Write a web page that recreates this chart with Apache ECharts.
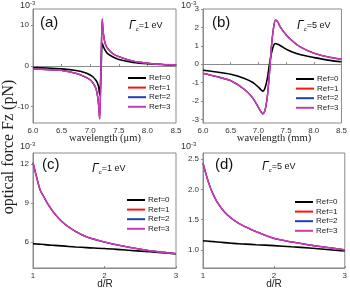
<!DOCTYPE html>
<html><head><meta charset="utf-8">
<script src="https://cdn.jsdelivr.net/npm/echarts@6/dist/echarts.min.js"></script>
<style>html,body{margin:0;padding:0;background:#fff}#c{width:350px;height:289px}</style>
</head><body><div id="c"></div>
<script>
// ---- data ----
var seriesNames = ['Ref=0','Ref=1','Ref=2','Ref=3'];
var wlA = [6.0,6.25,6.5,6.75,6.9,7.0,7.05,7.1,7.13,7.15,7.165,7.19,7.21,7.23,7.26,7.3,7.4,7.5,7.75,8.0,8.25,8.5];
var a_ref0 = [-0.4,-0.5,-0.7,-1.1,-1.6,-2.2,-2.7,-3.5,-4.3,-5.3,-7.1,-1.0,5.6,4.8,3.9,3.1,2.2,1.6,0.9,0.55,0.35,0.2];
var a_ref3 = [-0.7,-0.9,-1.1,-1.8,-2.6,-3.4,-4.2,-5.5,-7.5,-10.0,-13.0,0.0,11.5,8.0,5.6,4.4,3.0,2.3,1.2,0.7,0.4,0.25];
var a_ref1 = a_ref3.slice(), a_ref2 = a_ref3.slice();

var wlB = [6.0,6.25,6.5,6.75,6.9,7.0,7.05,7.08,7.12,7.16,7.2,7.24,7.28,7.31,7.35,7.4,7.5,7.6,7.75,8.0,8.25,8.5];
var b_ref0 = [-0.33,-0.43,-0.55,-0.78,-1.0,-1.25,-1.4,-1.47,-1.3,-0.8,0.0,0.65,1.05,1.12,1.08,1.0,0.82,0.68,0.52,0.36,0.22,0.13];
var b_ref3 = [-0.5,-0.68,-0.9,-1.38,-1.85,-2.35,-2.6,-2.7,-2.5,-1.8,-0.5,1.1,2.1,2.4,2.3,2.0,1.6,1.3,0.95,0.6,0.4,0.27];
var b_ref1 = b_ref3.slice(), b_ref2 = b_ref3.slice();

var dR = [1.0,1.05,1.1,1.15,1.2,1.3,1.4,1.5,1.6,1.75,2.0,2.25,2.5,2.75,3.0];
var c_ref0 = [5.87,5.85,5.83,5.81,5.78,5.74,5.70,5.66,5.62,5.57,5.5,5.4,5.3,5.2,5.08];
var c_ref3 = [12.1,11.0,10.0,9.5,9.0,8.2,7.6,7.15,6.8,6.4,6.0,5.7,5.45,5.25,5.1];
var c_ref1 = c_ref3.slice(), c_ref2 = c_ref3.slice();
var d_ref0 = [1.15,1.145,1.14,1.135,1.13,1.12,1.11,1.10,1.095,1.085,1.07,1.05,1.03,1.005,0.98];
var d_ref3 = [2.43,2.22,2.04,1.9,1.79,1.63,1.52,1.44,1.38,1.30,1.19,1.13,1.08,1.04,1.0];
var d_ref1 = d_ref3.slice(), d_ref2 = d_ref3.slice();

var yTicksA = [-10,0,10];
var yTicksB = [-3,-2,-1,0,1,2,3];
var yTicksC = [6,9,12];
var yTicksD = [1.0,1.5,2.0,2.5];

// ---- chart ----
var colors = ['#000000','#ff1010','#2040b0','#c83cb4'];
var widths = [1.6,1.3,1.3,1.5];
function zip(x,y){return x.map(function(v,i){return [v,y[i]];});}
var chart = echarts.init(document.getElementById('c'), null, {renderer:'canvas'});
var grids = [
  {left:33, top:9, width:143, height:114},
  {left:203, top:9, width:142, height:114},
  {left:33, top:153, width:143, height:115},
  {left:203, top:153, width:142, height:115}
];
grids.forEach(function(g){g.show=true;g.borderColor='#8a8a8a';g.borderWidth=1;g.backgroundColor='transparent';});
var axisLine = {show:true, lineStyle:{color:'#8a8a8a', width:1}};
var lbl = {color:'#333', fontSize:8, fontFamily:'Liberation Sans', margin:4};
function xAx(i,min,max,interval,dec){
  return {type:'value', gridIndex:i, min:min, max:max, interval:interval,
    axisLine:axisLine, axisTick:{show:true,inside:true,length:2,lineStyle:{color:'#8a8a8a'}},
    splitLine:{show:false},
    axisLabel:Object.assign({},lbl,{formatter:function(v){return v.toFixed(dec);}})};
}
function yAx(i,min,max,ticks,dec){
  return {type:'value', gridIndex:i, min:min, max:max,
    axisLine:axisLine, axisTick:{show:true,length:2,customValues:ticks,lineStyle:{color:'#8a8a8a'}},
    splitLine:{show:false},
    axisLabel:Object.assign({},lbl,{customValues:ticks,formatter:function(v){return Number(v).toFixed(dec);}})};
}
var series = [];
var sets = [[wlA,[a_ref0,a_ref1,a_ref2,a_ref3]],[wlB,[b_ref0,b_ref1,b_ref2,b_ref3]],[dR,[c_ref0,c_ref1,c_ref2,c_ref3]],[dR,[d_ref0,d_ref1,d_ref2,d_ref3]]];
sets.forEach(function(s,gi){
  s[1].forEach(function(ys,k){
    series.push({type:'line', name:seriesNames[k], xAxisIndex:gi, yAxisIndex:gi,
      data:zip(s[0],ys), showSymbol:false, smooth:0.3,
      lineStyle:{color:colors[k], width:widths[k]}, itemStyle:{color:colors[k]}, z:2+k, animation:false});
  });
});
var legPos = [[128,74],[296,75],[127,196],[295,198]];
var legends = legPos.map(function(p){
  return {show:true, orient:'vertical', left:p[0], top:p[1], itemWidth:18, itemHeight:2, itemGap:1.6,
    icon:'rect', padding:0, selectedMode:false,
    textStyle:{fontSize:8, fontFamily:'Liberation Sans', color:'#222', padding:[0,0,0,-2], lineHeight:8},
    data:seriesNames};
});
function sup(x,y){
  return {type:'text', left:x, top:y, style:{text:'{b|10}{s|-3}', rich:{b:{fontSize:9,fontFamily:'Liberation Sans',fill:'#333'},s:{fontSize:6,fontFamily:'Liberation Sans',fill:'#333',verticalAlign:'top',padding:[0,0,5,0]}}}};
}
function gam(x,y,v){
  return {type:'text', left:x, top:y, style:{text:'{g|Γ}{s|c}{t|='+v+' eV}', rich:{
    g:{fontSize:12,fontStyle:'italic',fontFamily:'Liberation Sans',fill:'#111'},
    s:{fontSize:6,fontStyle:'italic',fontFamily:'Liberation Sans',fill:'#111',padding:[7,0,0,0]},
    t:{fontSize:9,fontFamily:'Liberation Sans',fill:'#111'}}}};
}
function pl(x,y,t){return {type:'text', left:x, top:y, style:{text:t,fontSize:15,fontFamily:'Liberation Sans',fill:'#111'}};}
function ctext(x,y,t,fs,ff){return {type:'text', x:x, y:y, style:{text:t,fontSize:fs,fontFamily:ff,fill:'#222',align:'center',verticalAlign:'middle'}};}
var graphic = [
  sup(20,0), sup(181,0), sup(20,141), sup(181,141),
  pl(40,15,'(a)'), pl(212,15,'(b)'), pl(42,157,'(c)'), pl(215,157,'(d)'),
  gam(129,20,'1'), gam(297,20,'5'), gam(92,163,'1'), gam(262,161,'5'),
  ctext(105,138,'wavelength (μm)',10.5,'Liberation Serif'),
  ctext(274,138,'wavelength (mm)',10.5,'Liberation Serif'),
  ctext(105,284,'d/R',10,'Liberation Sans'),
  ctext(274,284,'d/R',10,'Liberation Sans'),
  {type:'text', x:9, y:147, rotation:Math.PI/2, style:{text:'optical force Fz (pN)',fontSize:16,fontFamily:'Liberation Serif',fill:'#222',align:'center',verticalAlign:'middle'}}
];
chart.setOption({
  animation:false,
  grid:grids,
  xAxis:[xAx(0,6,8.5,0.5,1),xAx(1,6,8.5,0.5,1),xAx(2,1,3,1,0),xAx(3,1,3,1,0)],
  yAxis:[yAx(0,-14,14,yTicksA,0),yAx(1,-3.2,3,yTicksB,0),yAx(2,4,12.85,yTicksC,0),yAx(3,0.7,2.6,yTicksD,1)],
  legend:legends,
  series:series,
  graphic:graphic
});
</script></body></html>
